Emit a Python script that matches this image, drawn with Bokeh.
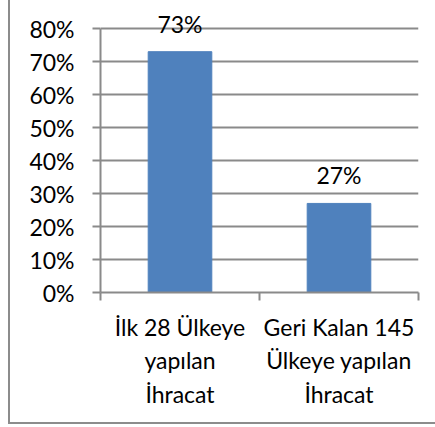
from bokeh.plotting import figure
from bokeh.models import FixedTicker, NumeralTickFormatter, Range1d, ColumnDataSource, LabelSet
from bokeh.core.properties import value
from bokeh.embed import file_html
from bokeh.resources import INLINE

categories = ["İlk 28 Ülkeye\nyapılan\nİhracat", "Geri Kalan 145\nÜlkeye yapılan\nİhracat"]
values = [0.73, 0.27]
value_labels = ["73%", "27%"]
y_ticks = [0, 0.1, 0.2, 0.3, 0.4, 0.5, 0.6, 0.7, 0.8]

FONT = "Lato"
FS = "23px"
GRID = "#8a8a8a"

xs = [i + 0.5 for i in range(len(categories))]
src = ColumnDataSource(dict(x=xs, top=values, lab=value_labels))

p = figure(width=427, height=424, output_backend="svg", toolbar_location=None,
           x_range=Range1d(0, len(categories)), y_range=Range1d(0, 0.87),
           min_border_left=90, min_border_right=19, min_border_top=5, min_border_bottom=132)
p.styles = {"margin-left": "8px", "border-left": "2px solid #8c8c8c",
            "border-bottom": "2px solid #8c8c8c"}
p.outline_line_color = None
p.background_fill_color = "white"
p.border_fill_color = "white"

p.vbar(x="x", top="top", width=0.4, source=src, color="#4F81BD")
p.add_layout(LabelSet(x="x", y="top", text="lab", source=src, text_align="center",
                      text_baseline="alphabetic", y_offset=19, text_font=value(FONT),
                      text_font_size=value(FS), text_color="black"))

# y axis
p.yaxis.ticker = FixedTicker(ticks=y_ticks)
p.yaxis.bounds = (0, 0.8)
p.yaxis.formatter = NumeralTickFormatter(format="0%")
p.yaxis.major_label_text_font = FONT
p.yaxis.major_label_text_font_size = FS
p.yaxis.major_label_text_color = "black"
p.yaxis.major_tick_out = 8
p.yaxis.major_tick_in = 0
p.yaxis.minor_tick_line_color = None
p.yaxis.axis_line_color = GRID
p.yaxis.axis_line_width = 2
p.yaxis.major_tick_line_color = GRID
p.yaxis.major_tick_line_width = 2
p.yaxis.major_label_standoff = 18

# x axis
p.xaxis.ticker = FixedTicker(ticks=xs, minor_ticks=[0, 1, 2])
p.xaxis.major_label_overrides = {x: c for x, c in zip(xs, categories)}
p.xaxis.major_tick_out = 0
p.xaxis.major_tick_in = 0
p.xaxis.minor_tick_out = 8
p.xaxis.minor_tick_in = 0
p.xaxis.minor_tick_line_color = GRID
p.xaxis.minor_tick_line_width = 2
p.xaxis.axis_line_color = GRID
p.xaxis.axis_line_width = 2
p.xaxis.major_label_text_font = FONT
p.xaxis.major_label_text_font_size = FS
p.xaxis.major_label_text_color = "black"
p.xaxis.major_label_text_line_height = 1.2
p.xaxis.major_label_standoff = 12
p.xaxis.major_label_orientation = "horizontal"

p.xgrid.grid_line_color = None
p.ygrid.ticker = FixedTicker(ticks=y_ticks)
p.ygrid.grid_line_color = GRID
p.ygrid.grid_line_width = 2

open("out.html", "w").write(file_html(p, INLINE))
